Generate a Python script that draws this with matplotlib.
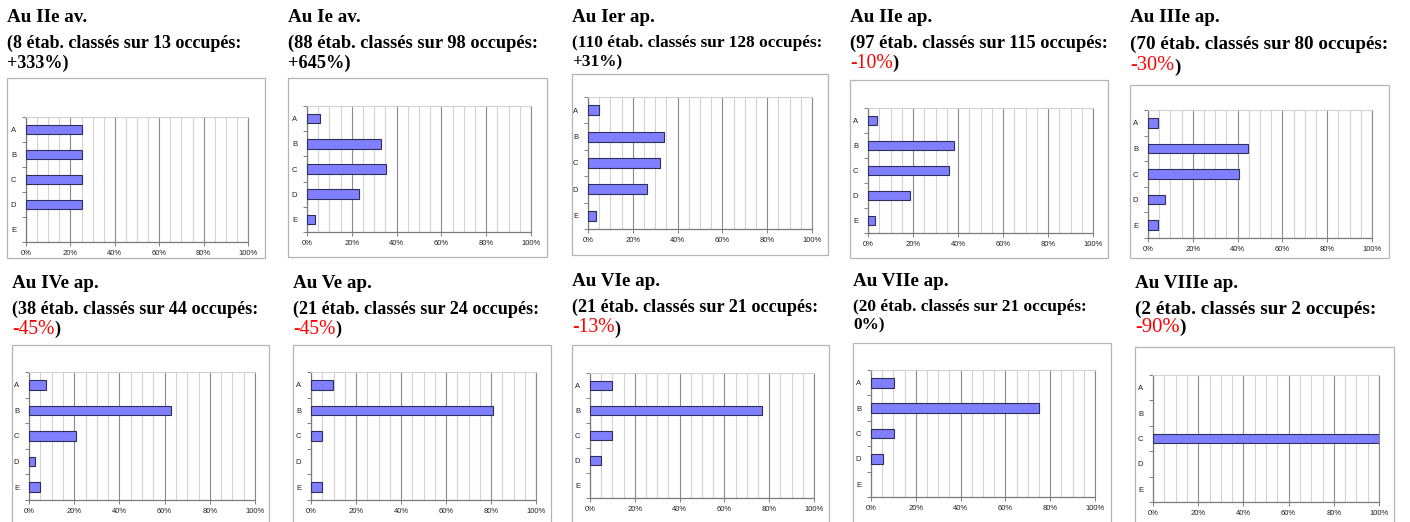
import matplotlib
matplotlib.use("Agg")
import matplotlib.pyplot as plt
from matplotlib.patches import Rectangle

W, H = 1410, 522

# Data
categories = ["A", "B", "C", "D", "E"]
periods = ["Au IIe av.", "Au Ie av.", "Au Ier ap.", "Au IIe ap.", "Au IIIe ap.",
           "Au IVe ap.", "Au Ve ap.", "Au VIe ap.", "Au VIIe ap.", "Au VIIIe ap."]
classed = [8, 88, 110, 97, 70, 38, 21, 21, 20, 2]
occupied = [13, 98, 128, 115, 80, 44, 24, 21, 21, 2]
changes = ["+333%", "+645%", "+31%", "-10%", "-30%", "-45%", "-45%", "-13%", "0%", "-90%"]

# share of establishments per class (%)
iie_av = [25, 25, 25, 25, 0]
ie_av = [6, 33, 35.4, 23, 3.6]
ier_ap = [4.8, 33.8, 32, 26.5, 3.7]
iie_ap = [4.2, 38.3, 36.1, 18.6, 3]
iiie_ap = [4.3, 44.6, 40.5, 7.5, 4.3]
ive_ap = [7.7, 63, 21, 2.5, 5]
ve_ap = [9.6, 81, 4.7, 0, 4.7]
vie_ap = [9.9, 76.6, 9.9, 4.8, 0]
viie_ap = [10.1, 75.2, 10.1, 5.3, 0]
viiie_ap = [0, 0, 100, 0, 0]
shares = [iie_av, ie_av, ier_ap, iie_ap, iiie_ap, ive_ap, ve_ap, vie_ap, viie_ap, viiie_ap]

# Layout in pixels (x0, y0, x1, y1), top-down
boxes = [(7, 78, 265, 258), (288, 78, 547, 257), (572, 74, 828, 255),
         (850, 80, 1108, 258), (1130, 85, 1389, 258),
         (12, 345, 269, 530), (293, 345, 551, 530), (572, 345, 829, 530),
         (853, 343, 1111, 530), (1135, 347, 1394, 530)]
plots = [(26, 117, 248, 242), (307, 106, 531, 232), (588, 97, 812, 229),
         (868, 108, 1093, 233), (1148, 110, 1372, 238),
         (29, 372, 255, 500), (311, 372, 536, 500), (590, 373, 814, 498),
         (871, 370, 1095, 497), (1153, 375, 1379, 502)]
text_y = [(17, 43, 63), (17, 43, 63), (17, 43, 62), (17, 43, 63), (17, 44, 66),
          (284, 309, 329), (284, 309, 329), (282, 307, 328), (282, 307, 325), (284, 309, 327)]
sub_size = [13.0, 13.2, 12.4, 13.2, 13.7, 13.1, 13.1, 13.1, 12.4, 13.9]

SERIF = "Liberation Serif"
SANS = "Liberation Sans"

fig = plt.figure(figsize=(W / 100, H / 100), dpi=100)
bg = fig.add_axes([0, 0, 1, 1])
bg.set_xlim(0, W)
bg.set_ylim(H, 0)
bg.axis("off")

for i in range(10):
    bx0, by0, bx1, by1 = boxes[i]
    bg.add_patch(Rectangle((bx0, by0), bx1 - bx0, by1 - by0, facecolor="white",
                           edgecolor="#b4b4b4", lw=0.9))
    ty, l1, l2 = text_y[i]
    bg.text(bx0, ty, periods[i], family=SERIF, weight="bold", fontsize=13.8,
            va="center", ha="left")
    bg.text(bx0, l1, f"({classed[i]} étab. classés sur {occupied[i]} occupés:",
            family=SERIF, weight="bold", fontsize=sub_size[i], va="center", ha="left")
    if changes[i].startswith("-"):
        t = bg.text(bx0, l2, changes[i], family=SERIF, color="#ff0000",
                    fontsize=sub_size[i] + 1, va="center", ha="left")
        bg.annotate(")", xy=(1, 0), xycoords=t, family=SERIF, weight="bold",
                    fontsize=sub_size[i], va="bottom", ha="left")
    else:
        bg.text(bx0, l2, changes[i] + ")", family=SERIF, weight="bold",
                fontsize=sub_size[i], va="center", ha="left")

    px0, py0, px1, py1 = plots[i]
    ax = fig.add_axes([px0 / W, 1 - py1 / H, (px1 - px0) / W, (py1 - py0) / H])
    vals = shares[i]
    ax.barh(range(len(categories)), vals, height=0.38, color="#8080ff",
            edgecolor="#2e2e5a", lw=[0.8 if v > 0 else 0 for v in vals], zorder=3)
    ax.set_xlim(0, 100)
    ax.set_ylim(len(categories) - 0.5, -0.5)

    ax.set_xticks(range(0, 101, 20))
    ax.set_xticklabels([f"{v}%" for v in range(0, 101, 20)])
    ax.set_xticks(range(0, 101, 5), minor=True)
    ax.grid(axis="x", which="major", color="#8a8a8a", lw=0.8, zorder=0)
    ax.grid(axis="x", which="minor", color="#d2d2d2", lw=0.8, zorder=0)
    ax.set_axisbelow(True)

    ax.set_yticks([k - 0.5 for k in range(len(categories) + 1)])
    ax.set_yticklabels([])
    ax.set_yticks(range(len(categories)), minor=True)
    ax.set_yticklabels(categories, minor=True)

    ax.tick_params(axis="x", which="major", length=3, width=0.7, color="#808080",
                   labelsize=5.5, pad=3, labelcolor="#222222")
    ax.tick_params(axis="x", which="minor", length=0)
    ax.tick_params(axis="y", which="major", length=3, width=0.7, color="#808080")
    ax.tick_params(axis="y", which="minor", length=0, labelsize=5.5, pad=7,
                   labelcolor="#222222")
    for lab in ax.get_xticklabels() + ax.get_yticklabels(minor=True):
        lab.set_family(SANS)

    for side in ("left", "bottom"):
        ax.spines[side].set_color("#7a7a7a")
        ax.spines[side].set_linewidth(0.9)
    ax.spines["right"].set_color("#8a8a8a")
    ax.spines["right"].set_linewidth(0.8)
    ax.spines["top"].set_color("#d2d2d2")
    ax.spines["top"].set_linewidth(0.8)

fig.savefig("out.png", dpi=100)
